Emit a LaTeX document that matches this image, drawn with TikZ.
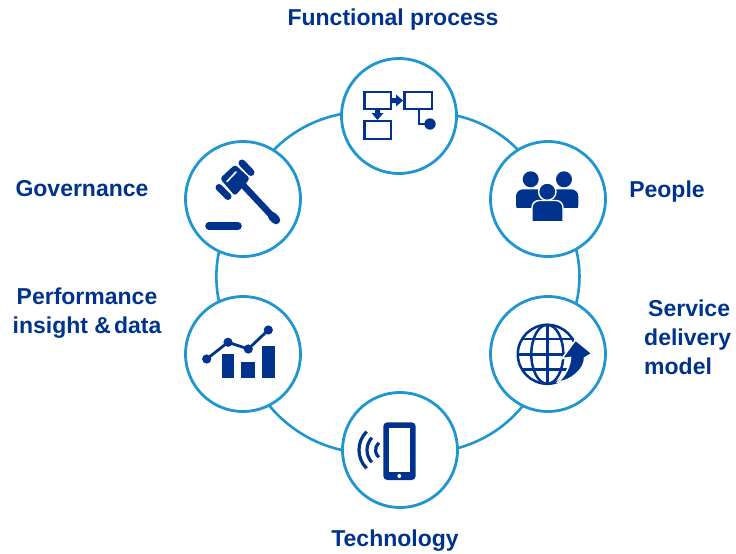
\documentclass[tikz,border=0pt]{standalone}
\usepackage{fontspec}
\usetikzlibrary{backgrounds}
\setmainfont{Liberation Sans}
\definecolor{navy}{HTML}{00338D}
\definecolor{ringblue}{HTML}{1F96D0}
\tikzset{
  hub/.style={circle,draw=ringblue,line width=2.8pt,fill=white,minimum size=115pt,inner sep=0pt},
  lab/.style={text=navy,font=\fontsize{23}{29}\selectfont\bfseries,align=center,inner sep=0pt},
  link/.style={draw=ringblue,line width=2.6pt},
  icoline/.style={draw=navy,line width=2.9pt}
}
\begin{document}
\begin{tikzpicture}[x=1pt,y=-1pt]
\useasboundingbox (0,0) rectangle (736,554);
% hubs
\node[hub] (process) at (399,116) {};
\node[hub] (people) at (548,199) {};
\node[hub] (service) at (548,354) {};
\node[hub] (tech) at (400,450) {};
\node[hub] (perf) at (243,354) {};
\node[hub] (gov) at (243,199) {};
% connectors
\begin{pgfonlayer}{background}
\fill[white] (0,0) rectangle (736,554);
\draw[link] (process.center) to[bend left=42] (people.center);
\draw[link] (people.center) to[bend left=44] (service.center);
\draw[link] (service.center) to[bend left=44] (tech.center);
\draw[link] (tech.center) to[bend left=44] (perf.center);
\draw[link] (perf.center) to[bend left=36] (gov.center);
\draw[link] (gov.center) to[bend left=42] (process.center);
\end{pgfonlayer}
% labels
\node[lab] (l1) at (393,20) {Functional process};
\node[lab] (l2) at (667,192) {People};
\node[lab,align=left,anchor=west] (l3) at (644,337) {\hspace*{4pt}Service\\delivery\\model};
\node[lab] (l4) at (395,541) {Technology};
\node[lab] (l5) at (87,313) {Performance\\insight \&\hspace{3pt}data};
\node[lab] (l6) at (82,189) {Governance};
% process icon
\draw[icoline] (364.5,92) rectangle (391,109);
\draw[icoline] (404.5,92) rectangle (432,109);
\draw[icoline] (364.5,121) rectangle (391,139);
\fill[navy] (391,98) -- (396,98) -- (396,94.5) -- (403,100.5) -- (396,106.5) -- (396,103) -- (391,103) -- cycle;
\fill[navy] (375,109) -- (380,109) -- (380,113) -- (383.5,113) -- (377.5,120) -- (371.5,113) -- (375,113) -- cycle;
\draw[icoline] (419,109) -- (419,124) -- (430,124);
\fill[navy] (430,124) circle (5.7);
% gavel icon
\draw[navy,line width=7.6pt,line cap=round] (209,226) -- (238,226);
\draw[navy,line width=6.5pt] (243,185) -- (273,217);
\draw[navy,line width=8.5pt,line cap=round] (272,216) -- (276,220);
\fill[navy,rounded corners=3pt] (220,178.5) -- (235,164.5) -- (250,178.5) -- (235,196) -- cycle;
\draw[navy,line width=7pt,line cap=round] (242,163) -- (251,172.5);
\draw[navy,line width=7pt,line cap=round] (219,187.5) -- (228,196.5);
\draw[white,line width=1.6pt,line cap=round] (227,181.5) -- (236,172);
% people icon
\fill[navy] (530.7,179.3) circle (8);
\fill[navy] (564,179.3) circle (8);
\fill[navy,rounded corners=7pt] (516,212) -- (516,189.3) -- (578.3,189.3) -- (578.3,212) -- cycle;
\fill[white] (510,208.3) rectangle (585,216);
\draw[white,line width=1.4pt,fill=navy] (547.3,191.7) circle (8.7);
\draw[white,line width=1.4pt,fill=navy,rounded corners=7pt] (532,240) -- (532,200.5) -- (563,200.5) -- (563,240) -- cycle;
\fill[white] (525,221) rectangle (570,245);
% chart icon
\fill[navy] (221.7,354) rectangle (234.3,378.3);
\fill[navy] (241.3,361.7) rectangle (254.7,378.3);
\fill[navy] (262,346) rectangle (275.3,378.3);
\draw[navy,line width=2.8pt] (206.7,359) -- (228,342.3) -- (248.3,349) -- (268.3,330);
\foreach \p in {(206.7,359),(228,342.3),(248.3,349),(268.3,330)} \fill[navy] \p circle (4.6);
% globe icon
\draw[navy,line width=2.5pt] (547.3,354.3) circle (29.5);
\draw[navy,line width=2.5pt] (547.3,354.3) ellipse (16 and 29.5);
\draw[navy,line width=2.5pt] (547.3,325) -- (547.3,384);
\draw[navy,line width=2.5pt] (521,339) -- (574,339);
\draw[navy,line width=2.5pt] (518,354.3) -- (577,354.3);
\draw[navy,line width=2.5pt] (522,369.5) -- (573,369.5);
\draw[white,line width=1.5pt,fill=navy] (592,353.5) -- (575.5,340) -- (562,358.5) -- (570.5,357.5) .. controls (570,367) and (565,376) .. (558,382) .. controls (571,381) and (585,369) .. (584.5,358) -- cycle;
% phone icon
\fill[navy,rounded corners=4pt] (383.3,422.3) rectangle (415.7,480);
\fill[white] (389.3,428.3) rectangle (410,472.3);
\fill[white] (399.3,476) circle (2);
\draw[navy,line width=3.2pt] (385,450)++(-135:26) arc (-135:-225:26);
\draw[navy,line width=3.2pt] (385,450)++(-137:18) arc (-137:-223:18);
\draw[navy,line width=3.2pt] (385,450)++(-130:9.5) arc (-130:-230:9.5);
\end{tikzpicture}
\end{document}
